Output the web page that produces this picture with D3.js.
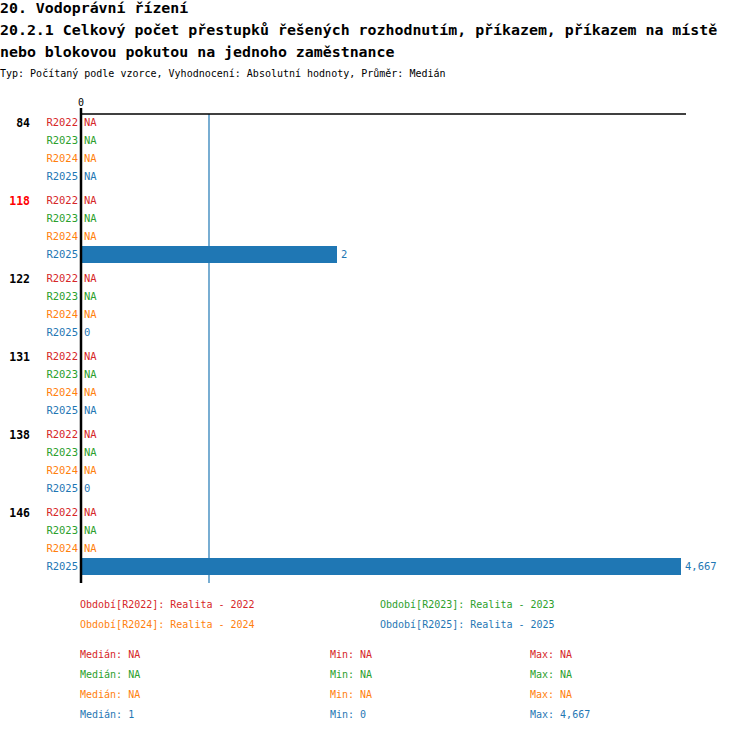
<!DOCTYPE html>
<html>
<head>
<meta charset="utf-8">
<script src="https://cdn.jsdelivr.net/npm/d3@7.9.0/dist/d3.min.js"></script>
<style>
  body { margin: 0; background: #fff; }
  svg { display: block; font-family: "DejaVu Sans Mono", "Liberation Mono", monospace; }
</style>
</head>
<body>
<div id="chart"></div>
<script>
const titleLines = [
  "20. Vodoprávní řízení",
  "20.2.1 Celkový počet přestupků řešených rozhodnutím, příkazem, příkazem na místě",
  "nebo blokovou pokutou na jednoho zaměstnance"
];
const subtitle = "Typ: Počítaný podle vzorce, Vyhodnocení: Absolutní hodnoty, Průměr: Medián";

const groups = ["84", "118", "122", "131", "138", "146"];
const highlightGroup = "118";
const series = ["R2022", "R2023", "R2024", "R2025"];
const seriesLabels = ["Realita - 2022", "Realita - 2023", "Realita - 2024", "Realita - 2025"];
const seriesColors = ["#d62728", "#2ca02c", "#ff7f0e", "#1f77b4"];
// values[series][group], null = NA
const values2022 = [null, null, null, null, null, null];
const values2023 = [null, null, null, null, null, null];
const values2024 = [null, null, null, null, null, null];
const values2025 = [null, 2, 0, null, 0, 4667];
const values = [values2022, values2023, values2024, values2025];

const width = 750, height = 732;
const svg = d3.select("#chart").append("svg")
  .attr("width", width).attr("height", height);

// titles
svg.selectAll("text.title")
  .data(titleLines)
  .enter().append("text")
  .attr("class", "title")
  .attr("x", 0)
  .attr("y", (d, i) => 13 + i * 22)
  .attr("font-size", 14.9)
  .attr("font-weight", "bold")
  .attr("fill", "#000")
  .text(d => d);
svg.append("text")
  .attr("x", 0).attr("y", 77)
  .attr("font-size", 10)
  .attr("fill", "#000")
  .text(subtitle);

// layout
const x0 = 81, xMax = 681;
const yTop = 114, yBottom = 583;
const rowStep = 18, groupStep = 78, firstRow = 122.5;

const allVals = values.flat().filter(v => v !== null);
const distinct = Array.from(new Set(allVals)).sort((a, b) => a - b);
// piecewise scale through the distinct values
const x = d3.scaleLinear()
  .domain(distinct)
  .range([x0, x0 + 256, xMax]);

const rowY = (g, s) => firstRow + g * groupStep + s * rowStep;

const stats = values.map(v => {
  const vv = v.filter(d => d !== null);
  return {
    median: vv.length ? d3.median(vv) : null,
    min: vv.length ? d3.min(vv) : null,
    max: vv.length ? d3.max(vv) : null
  };
});

// median lines
stats.forEach((st, i) => {
  if (st.median === null) return;
  svg.append("line")
    .attr("x1", x(st.median)).attr("x2", x(st.median))
    .attr("y1", yTop).attr("y2", yBottom)
    .attr("stroke", seriesColors[i]).attr("stroke-width", 1.2);
});

// top line
svg.append("line")
  .attr("x1", x0).attr("x2", 686)
  .attr("y1", yTop).attr("y2", yTop)
  .attr("stroke", "#000").attr("stroke-width", 1.5);

// data cells
const cells = [];
groups.forEach((g, gi) => {
  series.forEach((s, si) => {
    cells.push({ g, gi, s, si, v: values[si][gi] });
  });
});

svg.append("g").selectAll("rect")
  .data(cells.filter(d => d.v !== null && d.v > 0))
  .enter().append("rect")
  .attr("x", x0 + 1)
  .attr("y", d => rowY(d.gi, d.si) - 8.5)
  .attr("width", d => x(d.v) - x0 - 1)
  .attr("height", 17)
  .attr("fill", d => seriesColors[d.si]);

const fmt = d3.format(",");
svg.append("g").selectAll("text")
  .data(cells)
  .enter().append("text")
  .attr("x", d => d.v !== null && d.v > 0 ? x(d.v) + 4 : x0 + 3)
  .attr("y", d => rowY(d.gi, d.si))
  .attr("dy", "0.35em")
  .attr("font-size", 10.5)
  .attr("fill", d => seriesColors[d.si])
  .text(d => d.v === null ? "NA" : fmt(d.v));

// series labels
svg.append("g").selectAll("text")
  .data(cells)
  .enter().append("text")
  .attr("x", x0 - 3)
  .attr("y", d => rowY(d.gi, d.si))
  .attr("dy", "0.35em")
  .attr("text-anchor", "end")
  .attr("font-size", 10.5)
  .attr("fill", d => seriesColors[d.si])
  .text(d => d.s);

// group labels
svg.append("g").selectAll("text")
  .data(groups)
  .enter().append("text")
  .attr("x", 30)
  .attr("y", (d, i) => rowY(i, 0))
  .attr("dy", "0.35em")
  .attr("text-anchor", "end")
  .attr("font-size", 11.5)
  .attr("font-weight", "bold")
  .attr("fill", d => d === highlightGroup ? "#ff0000" : "#000")
  .text(d => d);

// axis
svg.append("line")
  .attr("x1", x0).attr("x2", x0)
  .attr("y1", 108).attr("y2", yBottom)
  .attr("stroke", "#000").attr("stroke-width", 2.5);
svg.append("text")
  .attr("x", x0).attr("y", 106)
  .attr("text-anchor", "middle")
  .attr("font-size", 10)
  .text(fmt(distinct[0]));

// legend
series.forEach((s, i) => {
  svg.append("text")
    .attr("x", i % 2 === 0 ? 80 : 380)
    .attr("y", 604 + Math.floor(i / 2) * 20)
    .attr("dy", "0.35em")
    .attr("font-size", 10)
    .attr("fill", seriesColors[i])
    .text(`Období[${s}]: ${seriesLabels[i]}`);
});

// stats
const na = v => v === null ? "NA" : fmt(v);
stats.forEach((st, i) => {
  const y = 654 + i * 20;
  [["Medián: ", st.median, 80], ["Min: ", st.min, 330], ["Max: ", st.max, 530]].forEach(([lab, v, xx]) => {
    svg.append("text")
      .attr("x", xx).attr("y", y)
      .attr("dy", "0.35em")
      .attr("font-size", 10)
      .attr("fill", seriesColors[i])
      .text(lab + na(v));
  });
});
</script>
</body>
</html>
